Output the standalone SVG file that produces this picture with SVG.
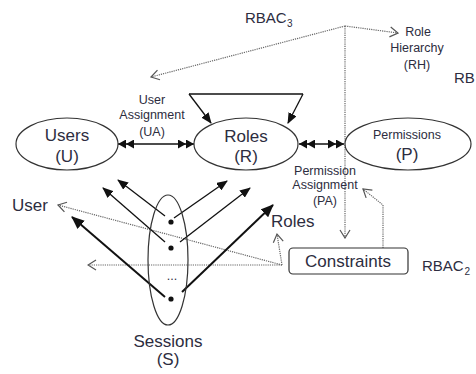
<svg xmlns="http://www.w3.org/2000/svg" width="476" height="374" viewBox="0 0 476 374">
<defs>
<style>
text{font-family:"Liberation Sans",Arial,sans-serif;fill:#2d2d40}
.big{font-size:17px}
.mid{font-size:15px}
.sm{font-size:12.5px}
.sub{font-size:10px}
.c{text-anchor:middle}
.node{fill:#fff;stroke:#333;stroke-width:1.2}
.sol{stroke:#111;stroke-width:1.3;fill:none}
.bold{stroke:#111;stroke-width:2;fill:none}
.dot{stroke:#666;stroke-width:1.2;stroke-dasharray:1.2,1;fill:none}
</style>
<marker id="ah" markerUnits="userSpaceOnUse" markerWidth="11" markerHeight="9" viewBox="0 0 11 9" refX="10" refY="4.5" orient="auto"><path d="M0,0 L11,4.5 L0,9 Z" fill="#111"/></marker>
<marker id="ahb" markerUnits="userSpaceOnUse" markerWidth="13" markerHeight="11" viewBox="0 0 13 11" refX="12" refY="5.5" orient="auto"><path d="M0,0 L13,5.5 L0,11 Z" fill="#111"/></marker>
<marker id="dbl" markerUnits="userSpaceOnUse" markerWidth="16" markerHeight="9" viewBox="0 0 16 9" refX="16" refY="4.5" orient="auto-start-reverse"><path d="M0,0 L8,4.5 L0,9 Z M8,0 L16,4.5 L8,9 Z" fill="#111"/></marker>
<marker id="opn" markerUnits="userSpaceOnUse" markerWidth="10" markerHeight="12" viewBox="0 0 10 12" refX="9" refY="6" orient="auto"><path d="M1,1 L9,6 L1,11" fill="none" stroke="#555" stroke-width="1.2"/></marker>
</defs>

<g id="connectors">
<path class="sol" d="M118,144 L194,144" marker-start="url(#dbl)" marker-end="url(#dbl)"/>
<path class="sol" d="M299,144 L344,144" marker-start="url(#dbl)" marker-end="url(#dbl)"/>
<path class="sol" d="M189,94 L303,94"/>
<path class="sol" d="M189,94 L211,123" marker-end="url(#ah)"/>
<path class="sol" d="M303,94 L288,123" marker-end="url(#ah)"/>
<path class="dot" d="M345,26 L151,77" marker-end="url(#opn)"/>
<path class="dot" d="M345,26 L398,33" marker-end="url(#opn)"/>
<path class="dot" d="M345,26 L345,238" marker-end="url(#opn)"/>
<path class="dot" d="M383,248 L383,205 L363,189" marker-end="url(#opn)"/>
<path class="dot" d="M282,265 L88,265" marker-end="url(#opn)"/>
<path class="dot" d="M282,265 L58,205" marker-end="url(#opn)"/>
<path class="dot" d="M282,265 L277,234" marker-end="url(#opn)"/>
<path class="sol" d="M165,216 L118,180" marker-end="url(#ah)"/>
<path class="sol" d="M174,218 L227,181" marker-end="url(#ah)"/>
<path class="sol" d="M165,242 L103,188" marker-end="url(#ah)"/>
<path class="sol" d="M180,242 L250,188" marker-end="url(#ah)"/>
<path class="bold" d="M165,297 L72,217" marker-end="url(#ahb)"/>
<path class="bold" d="M182,292 L273,205" marker-end="url(#ahb)"/>
</g>

<g id="users">
<ellipse class="node" cx="67" cy="144" rx="51" ry="26"/>
<text class="big c" x="67" y="141">Users</text>
<text class="big c" x="67" y="162">(U)</text>
</g>
<g id="roles">
<ellipse class="node" cx="246" cy="144" rx="52" ry="26"/>
<text class="big c" x="246" y="142">Roles</text>
<text class="big c" x="246" y="162">(R)</text>
</g>
<g id="permissions">
<ellipse class="node" cx="408" cy="144" rx="63" ry="26"/>
<text class="sm c" x="407" y="139">Permissions</text>
<text class="big c" x="407" y="160">(P)</text>
</g>
<g id="sessions">
<ellipse class="node" cx="168" cy="260" rx="20" ry="65" style="fill:none"/>
<circle cx="171" cy="222" r="2.6" fill="#111"/>
<circle cx="171" cy="248" r="2.6" fill="#111"/>
<circle cx="171" cy="299" r="2.6" fill="#111"/>
<text class="sm c" x="172" y="280">...</text>
<text class="big c" x="168" y="347">Sessions</text>
<text class="big c" x="168" y="365">(S)</text>
</g>
<g id="constraints">
<rect class="node" x="289" y="248" width="119" height="26" rx="4"/>
<text class="big c" x="348" y="267">Constraints</text>
</g>
<g id="labels">
<text class="sm c" x="152" y="104">User</text>
<text class="sm c" x="152" y="119">Assignment</text>
<text class="sm c" x="152" y="136">(UA)</text>
<text class="sm c" x="325" y="175">Permission</text>
<text class="sm c" x="325" y="189">Assignment</text>
<text class="sm c" x="325" y="205">(PA)</text>
<text class="sm c" x="418" y="36">Role</text>
<text class="sm c" x="417" y="52">Hierarchy</text>
<text class="sm c" x="417" y="69">(RH)</text>
<text class="mid" x="245" y="23">RBAC</text>
<text class="sub" x="287" y="27">3</text>
<text class="mid" x="454" y="83">RB</text>
<text class="mid" x="422" y="271">RBAC</text>
<text class="sub" x="464.5" y="275">2</text>
<text class="big" x="12" y="211">User</text>
<text class="big" x="271" y="227">Roles</text>
</g>
</svg>
